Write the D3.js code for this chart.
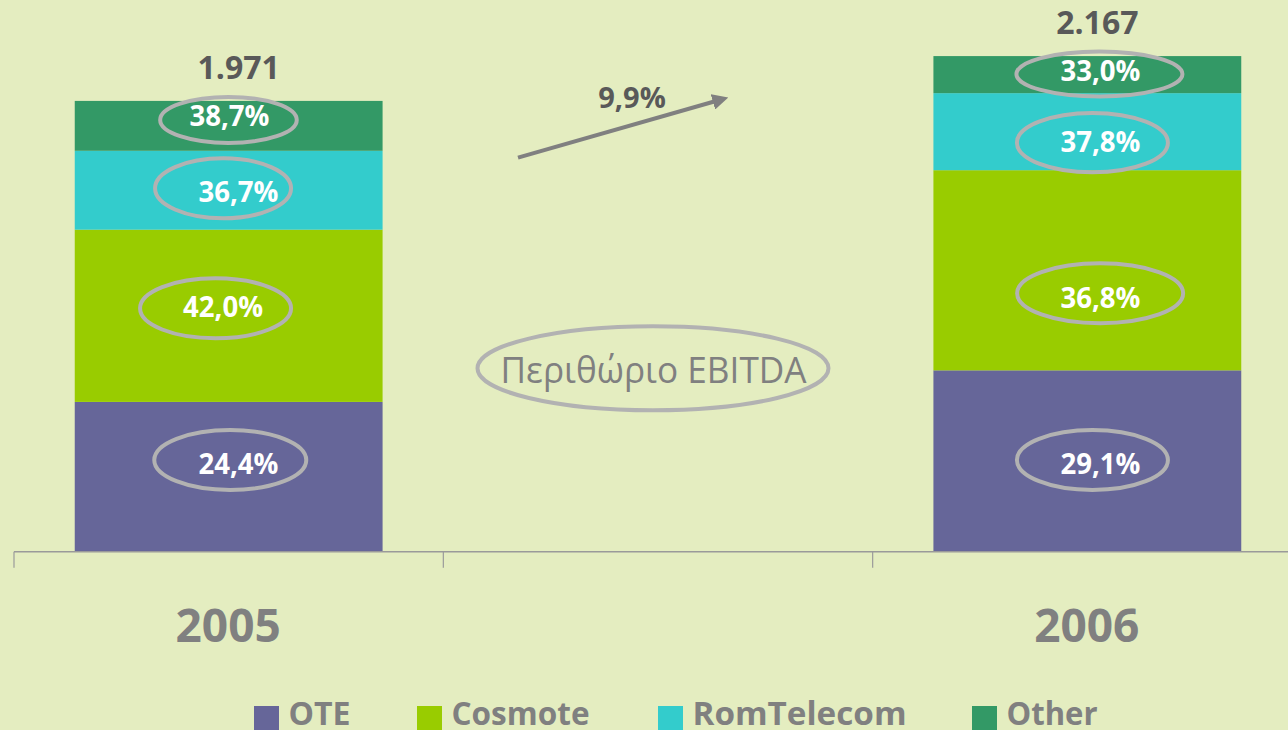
<!DOCTYPE html>
<html>
<head>
<meta charset="utf-8">
<script src="https://cdn.jsdelivr.net/npm/d3@7"></script>
<style>
  html, body { margin: 0; padding: 0; background: #e4edc0; }
  svg { display: block; }
  text { font-family: "Open Sans", "DejaVu Sans", sans-serif; }
</style>
</head>
<body>
<svg id="chart" width="1288" height="730"></svg>
<script>
// ---- data ----
const categories = ["2005", "", "2006"];
const years = ["2005", "2006"];
const seriesNames = ["OTE", "Cosmote", "RomTelecom", "Other"];
const oteValues = [655, 793];
const cosmoteValues = [753, 875];
const romTelecomValues = [345, 337];
const otherValues = [218, 162];
const totalLabels = ["1.971", "2.167"];
const oteMargins = ["24,4%", "29,1%"];
const cosmoteMargins = ["42,0%", "36,8%"];
const romTelecomMargins = ["36,7%", "37,8%"];
const otherMargins = ["38,7%", "33,0%"];
const growthLabel = "9,9%";
const marginTitle = "Περιθώριο EBITDA";

// ---- styles / layout ----
const colors = ["#666699", "#99cc00", "#33cccc", "#339966"];
const legendLayout = { x: [254, 417, 658, 972], textWidth: [62, 138, 214, 91] };
const W = 1288, H = 730;
const baseY = 551.7;
const svg = d3.select("#chart");

const rows = years.map((yr, i) => ({
  year: yr,
  OTE: oteValues[i], Cosmote: cosmoteValues[i], RomTelecom: romTelecomValues[i], Other: otherValues[i],
  total: oteValues[i] + cosmoteValues[i] + romTelecomValues[i] + otherValues[i]
}));
const marginsBySeries = [oteMargins, cosmoteMargins, romTelecomMargins, otherMargins];

const xEdge = d3.scaleBand().domain(categories).range([14, 1302]).padding(0);
const x = d3.scaleBand().domain(categories).range([14, 1302]).paddingInner(0.283).paddingOuter(0.1415);
const y = d3.scaleLinear().domain([0, 2400]).range([baseY, baseY - 2400 * 0.22871]);

const stack = d3.stack().keys(seriesNames);
const stacked = stack(rows);

// bars
const layers = svg.append("g").selectAll("g").data(stacked).join("g")
  .attr("fill", (d, i) => colors[i]);
layers.selectAll("rect").data(d => d).join("rect")
  .attr("x", d => x(d.data.year))
  .attr("width", x.bandwidth())
  .attr("y", d => y(d[1]))
  .attr("height", d => y(d[0]) - y(d[1]));

// axis
const axisG = svg.append("g");
axisG.append("line").attr("x1", xEdge(categories[0])).attr("x2", W)
  .attr("y1", baseY).attr("y2", baseY).attr("stroke", "#9a9a9a").attr("stroke-width", 1.5);
axisG.selectAll("line.tick").data(categories).join("line").attr("class", "tick")
  .attr("x1", d => xEdge(d)).attr("x2", d => xEdge(d))
  .attr("y1", baseY).attr("y2", baseY + 16).attr("stroke", "#9a9a9a").attr("stroke-width", 1.2);
axisG.selectAll("text.cat").data(categories.filter(c => c !== "")).join("text").attr("class", "cat")
  .attr("x", d => xEdge(d) + xEdge.bandwidth() / 2 - 0.5)
  .attr("y", 641.7)
  .attr("text-anchor", "middle")
  .attr("font-size", 46).attr("font-weight", "bold").attr("fill", "#808080")
  .text(d => d);

// totals above bars
svg.append("g").selectAll("text").data(rows).join("text")
  .attr("x", d => x(d.year) + x.bandwidth() / 2 + 10)
  .attr("y", d => y(d.total) - 22)
  .attr("text-anchor", "middle")
  .attr("font-size", 32).attr("font-weight", "bold").attr("fill", "#595959")
  .text((d, i) => totalLabels[i]);

// margin labels with ellipses (offsets: ellipse dx, dy, rx, ry, text dx, text dy)
const labelLayout = [
  [[1.6, -16.8, 76, 30, 9.8, -2.8], [5.1, -1, 75.5, 30, 13.1, 13.3]],
  [[-13.1, -7.5, 75.5, 30, -5.6, 0.9], [12.8, 23, 83, 30, 13.1, 37.4]],
  [[-5.6, -1.9, 68, 30, 9.8, 11.5], [5.1, 11, 75.5, 29.7, 13.1, 20]],
  [[-0.2, -5.9, 68.3, 23, 0.8, 0.1], [12.1, -0.6, 83, 22.5, 13.1, 6.4]]
];
const labelData = [];
stacked.forEach((layer, si) => {
  layer.forEach((seg, yi) => {
    const L = labelLayout[si][yi];
    const cx = x(seg.data.year) + x.bandwidth() / 2;
    const cy = (y(seg[0]) + y(seg[1])) / 2;
    labelData.push({ cx, cy, L, text: marginsBySeries[si][yi] });
  });
});
const lg = svg.append("g");
lg.selectAll("ellipse").data(labelData).join("ellipse")
  .attr("cx", d => d.cx + d.L[0]).attr("cy", d => d.cy + d.L[1])
  .attr("rx", d => d.L[2]).attr("ry", d => d.L[3])
  .attr("fill", "none").attr("stroke", "#b2b2b2").attr("stroke-width", 4);
lg.selectAll("text").data(labelData).join("text")
  .attr("x", d => d.cx + d.L[4]).attr("y", d => d.cy + d.L[5])
  .attr("text-anchor", "middle")
  .attr("font-size", 28).attr("font-weight", "bold").attr("fill", "#ffffff")
  .attr("textLength", 80).attr("lengthAdjust", "spacingAndGlyphs")
  .text(d => d.text);

// growth arrow
const mid = xEdge(categories[1]) + xEdge.bandwidth() / 2;
const defs = svg.append("defs");
defs.append("marker").attr("id", "arrowHead").attr("viewBox", "0 0 10 10")
  .attr("refX", 2).attr("refY", 5).attr("markerWidth", 4).attr("markerHeight", 4)
  .attr("orient", "auto").attr("markerUnits", "strokeWidth")
  .append("path").attr("d", "M0,0 L10,5 L0,10 z").attr("fill", "#808080");
svg.append("line")
  .attr("x1", mid - 140).attr("y1", 157.7)
  .attr("x2", mid + 58).attr("y2", 101)
  .attr("stroke", "#808080").attr("stroke-width", 4)
  .attr("marker-end", "url(#arrowHead)");
svg.append("text").attr("x", mid - 26).attr("y", 107.7).attr("text-anchor", "middle")
  .attr("font-size", 29).attr("font-weight", "bold").attr("fill", "#595959")
  .text(growthLabel);

// margin title ellipse
svg.append("ellipse").attr("cx", mid - 5).attr("cy", 368.3).attr("rx", 175.5).attr("ry", 42)
  .attr("fill", "none").attr("stroke", "#b2b2b2").attr("stroke-width", 4);
svg.append("text").attr("x", mid - 4.5).attr("y", 383.3).attr("text-anchor", "middle")
  .attr("font-size", 37).attr("fill", "#808080")
  .attr("textLength", 306).attr("lengthAdjust", "spacingAndGlyphs")
  .text(marginTitle);

// legend
const legend = svg.append("g");
const items = legend.selectAll("g").data(seriesNames).join("g")
  .attr("transform", (d, i) => `translate(${legendLayout.x[i]},0)`);
items.append("rect").attr("x", 0).attr("y", 706).attr("width", 25).attr("height", 25)
  .attr("fill", (d, i) => colors[i]);
items.append("text").attr("x", 34.5).attr("y", 725)
  .attr("font-size", 32).attr("font-weight", "bold").attr("fill", "#808080")
  .attr("textLength", (d, i) => legendLayout.textWidth[i]).attr("lengthAdjust", "spacingAndGlyphs")
  .text(d => d);
</script>
</body>
</html>
